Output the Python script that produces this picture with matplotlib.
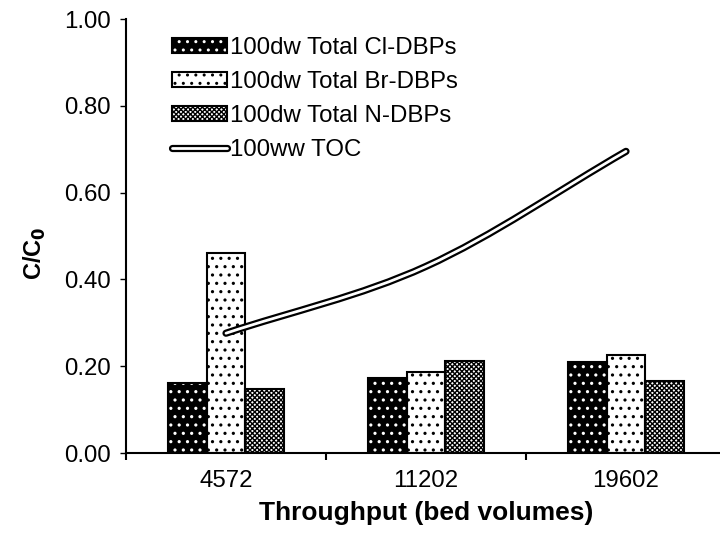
import numpy as np
import matplotlib.pyplot as plt
from matplotlib.path import Path
from matplotlib.patches import PathPatch, Patch
from matplotlib.lines import Line2D
from matplotlib.legend_handler import HandlerTuple

plt.rcParams['font.family'] = ['Liberation Sans', 'DejaVu Sans']

#data
categories = ['4572', '11202', '19602']
cl_dbps = [0.162, 0.173, 0.210]
br_dbps = [0.460, 0.187, 0.226]
n_dbps = [0.147, 0.213, 0.167]
toc = [0.276, 0.43, 0.695]

fig = plt.figure(figsize=(7.2, 5.36), dpi=100)
ax = fig.add_axes([126/720, 83/536, 600/720, 434/536])

x = np.arange(len(categories))
width = 0.193
fs = 17.3

#each series: hatched fill, then black outline on top
series = [(cl_dbps, -width, 'black', 'white', '..', '100dw Total Cl-DBPs'),
          (br_dbps, 0.0, 'white', 'black', '..', '100dw Total Br-DBPs'),
          (n_dbps, width, 'white', 'black', 'xxxxxxx', '100dw Total N-DBPs')]
handles = []
labels = []
for vals, off, fc, hc, hatch, lab in series:
    with plt.rc_context({'hatch.linewidth': 1.1 if hatch == '..' else 1.0}):
        ax.bar(x + off, vals, width, color=fc, edgecolor=hc, hatch=hatch, linewidth=0, zorder=2)
        ax.bar(x + off, vals, width, fill=False, edgecolor='black', linewidth=1.5, zorder=3)
        h1 = Patch(facecolor=fc, edgecolor=hc, hatch=hatch, linewidth=0)
        h2 = Patch(fill=False, edgecolor='black', linewidth=1.5)
    handles.append((h1, h2))
    labels.append(lab)

#smooth TOC curve (Catmull-Rom through the data points, as a bezier path)
pts = np.column_stack([x, toc]).astype(float)
tang = np.zeros_like(pts)
tang[0] = pts[1] - pts[0]
tang[-1] = pts[-1] - pts[-2]
tang[1:-1] = (pts[2:] - pts[:-2]) / 2
verts = [pts[0]]
codes = [Path.MOVETO]
for i in range(len(pts) - 1):
    verts += [pts[i] + tang[i] / 3, pts[i + 1] - tang[i + 1] / 3, pts[i + 1]]
    codes += [Path.CURVE4] * 3
path = Path(verts, codes)
ax.add_patch(PathPatch(path, fill=False, edgecolor='black', linewidth=5.2, capstyle='round', zorder=4))
ax.add_patch(PathPatch(path, fill=False, edgecolor='white', linewidth=2.0, capstyle='round', zorder=5))
handles.append((Line2D([], [], color='black', lw=5.2, solid_capstyle='round'),
                Line2D([], [], color='white', lw=2.0, solid_capstyle='round')))
labels.append('100ww TOC')

ax.set_xlim(-0.5, 2.5)
ax.set_ylim(0, 1)
ax.spines['top'].set_visible(False)
ax.spines['right'].set_visible(False)
ax.spines['left'].set_linewidth(1.5)
ax.spines['bottom'].set_linewidth(1.5)
ax.spines['left'].set_zorder(6)
ax.spines['bottom'].set_zorder(6)

ax.set_xticks([-0.5, 0.5, 1.5, 2.5])
ax.set_xticklabels([])
ax.set_xticks(x, minor=True)
ax.set_xticklabels(categories, minor=True, fontsize=fs)
ax.tick_params(axis='x', which='major', length=5, width=1.5, direction='out')
ax.tick_params(axis='x', which='minor', length=0, pad=12)
ax.set_yticks(np.arange(0, 1.01, 0.2))
ax.set_yticklabels(['%.2f' % v for v in np.arange(0, 1.01, 0.2)], fontsize=fs)
ax.tick_params(axis='y', length=4, width=1.0, direction='out', pad=7)

ax.set_xlabel('Throughput (bed volumes)', fontsize=19, fontweight='bold')
ax.xaxis.set_label_coords(0.5, -0.11)
ax.set_ylabel('C/C$_\\mathbf{0}$', fontsize=17, fontweight='bold')
ax.yaxis.set_label_coords(-0.13, 0.46)

ax.legend(handles, labels, handler_map={tuple: HandlerTuple(ndivide=1)},
          loc='upper left', bbox_to_anchor=(46/600, (453-37)/434), frameon=False,
          fontsize=fs, handlelength=2.3, handleheight=0.55, handletextpad=0.12,
          labelspacing=0.5, borderpad=0, borderaxespad=0)

fig.savefig('out.png', dpi=100)
